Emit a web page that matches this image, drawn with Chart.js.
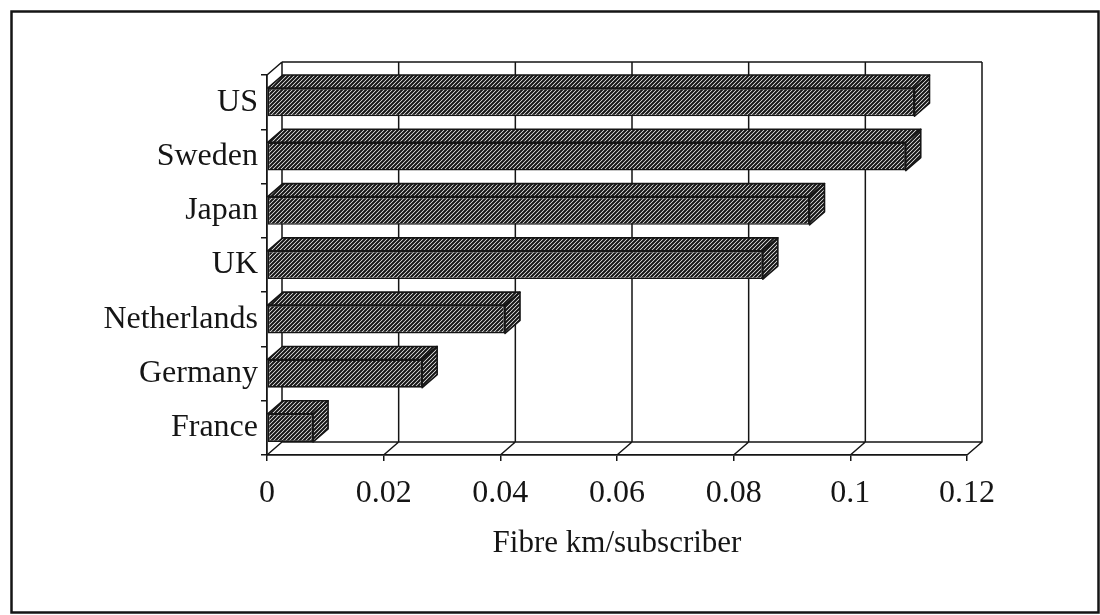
<!DOCTYPE html>
<html>
<head>
<meta charset="utf-8">
<script src="https://cdn.jsdelivr.net/npm/chart.js@4/dist/chart.umd.min.js"></script>
<style>
  html, body { margin: 0; padding: 0; background: #fff; }
  #wrap { width: 1100px; height: 615px; }
</style>
</head>
<body>
<div id="wrap"><canvas id="c" width="1100" height="615"></canvas></div>
<script>
// Fibre deployment per subscriber, by country
const countries = ['US', 'Sweden', 'Japan', 'UK', 'Netherlands', 'Germany', 'France'];
const fibreKm = [0.111, 0.1095, 0.093, 0.085, 0.0408, 0.0266, 0.0079];
const xTickLabels = ['0', '0.02', '0.04', '0.06', '0.08', '0.1', '0.12'];
const xTitle = 'Fibre km/subscriber';

// depth offset of the pseudo-3D box
const DX = 15, DY = -13;
const INK = '#151515';
const FONT = { family: 'Liberation Serif', size: 32 };
const TITLE_FONT = { family: 'Liberation Serif', size: 31 };

// diagonal hatch fill
function makeHatch() {
  const s = 4;
  const c = document.createElement('canvas');
  c.width = s; c.height = s;
  const g = c.getContext('2d');
  g.fillStyle = '#fff';
  g.fillRect(0, 0, s, s);
  g.strokeStyle = '#151515';
  g.lineWidth = 2.1;
  g.beginPath();
  g.moveTo(-1, s + 1); g.lineTo(s + 1, -1);
  g.moveTo(-1, 1); g.lineTo(1, -1);
  g.moveTo(s - 1, s + 1); g.lineTo(s + 1, s - 1);
  g.stroke();
  return document.getElementById('c').getContext('2d').createPattern(c, 'repeat');
}
const hatch = makeHatch();

const framePlugin = {
  id: 'frame',
  beforeDraw(chart) {
    const ctx = chart.ctx;
    ctx.save();
    ctx.fillStyle = '#fff';
    ctx.fillRect(0, 0, chart.width, chart.height);
    ctx.strokeStyle = INK;
    ctx.lineWidth = 2.5;
    ctx.strokeRect(11.5, 11.5, chart.width - 13, chart.height - 14);
    ctx.restore();
  },
  beforeDatasetsDraw(chart) {
    const ctx = chart.ctx;
    const xs = chart.scales.x;
    const a = chart.chartArea;
    const ticks = xs.ticks.map(t => xs.getPixelForValue(t.value));
    const bTop = a.top + DY, bBot = a.bottom + DY;
    ctx.save();
    ctx.strokeStyle = INK;
    ctx.lineWidth = 1.5;
    ctx.beginPath();
    // back wall outline and gridlines
    ctx.moveTo(ticks[0] + DX, bTop);
    ctx.lineTo(ticks[ticks.length - 1] + DX, bTop);
    ticks.forEach(px => {
      ctx.moveTo(px + DX, bTop);
      ctx.lineTo(px + DX, bBot);
      // floor diagonals
      ctx.lineTo(px, a.bottom);
    });
    ctx.moveTo(ticks[0] + DX, bBot);
    ctx.lineTo(ticks[ticks.length - 1] + DX, bBot);
    // top-left edge of the side wall
    ctx.moveTo(a.left, a.top);
    ctx.lineTo(a.left + DX, bTop);
    ctx.stroke();

    // top and end faces of each bar
    const meta = chart.getDatasetMeta(0);
    ctx.lineWidth = 1.6;
    ctx.lineJoin = 'round';
    meta.data.forEach(bar => {
      const p = bar.getProps(['x', 'y', 'base', 'height'], true);
      const top = p.y - p.height / 2, bot = p.y + p.height / 2;
      ctx.fillStyle = hatch;
      ctx.beginPath();
      ctx.moveTo(p.base, top);
      ctx.lineTo(p.x, top);
      ctx.lineTo(p.x + DX, top + DY);
      ctx.lineTo(p.base + DX, top + DY);
      ctx.closePath();
      ctx.fill(); ctx.stroke();
      ctx.beginPath();
      ctx.moveTo(p.x, top);
      ctx.lineTo(p.x + DX, top + DY);
      ctx.lineTo(p.x + DX, bot + DY);
      ctx.lineTo(p.x, bot);
      ctx.closePath();
      ctx.fill(); ctx.stroke();
    });
    ctx.restore();
  }
};

new Chart(document.getElementById('c'), {
  type: 'bar',
  data: {
    labels: countries,
    datasets: [{
      data: fibreKm,
      backgroundColor: hatch,
      borderColor: INK,
      borderWidth: 1.6,
      borderSkipped: false,
      categoryPercentage: 1,
      barPercentage: 0.52
    }]
  },
  options: {
    indexAxis: 'y',
    responsive: false,
    animation: false,
    events: [],
    layout: { padding: { left: 11, right: 133, top: 75, bottom: 53 } },
    plugins: { legend: { display: false }, tooltip: { enabled: false } },
    scales: {
      x: {
        type: 'linear',
        min: 0,
        max: 0.12,
        ticks: {
          stepSize: 0.02,
          color: INK,
          font: FONT,
          padding: 13,
          maxRotation: 0,
          callback: (v, i) => xTickLabels[i]
        },
        grid: { drawOnChartArea: false, drawTicks: true, tickLength: 6, color: INK, lineWidth: 1.5 },
        border: { display: true, color: INK, width: 1.8 },
        title: { display: true, text: xTitle, color: INK, font: TITLE_FONT, padding: { top: 10, bottom: 0 } },
        afterFit(s) { s.height = 107; }
      },
      y: {
        ticks: { color: INK, font: FONT, padding: 3 },
        grid: { offset: true, drawOnChartArea: false, drawTicks: true, tickLength: 6, color: INK, lineWidth: 1.5 },
        border: { display: true, color: INK, width: 1.8 },
        afterFit(s) { s.width = 256; }
      }
    }
  },
  plugins: [framePlugin]
});
</script>
</body>
</html>
